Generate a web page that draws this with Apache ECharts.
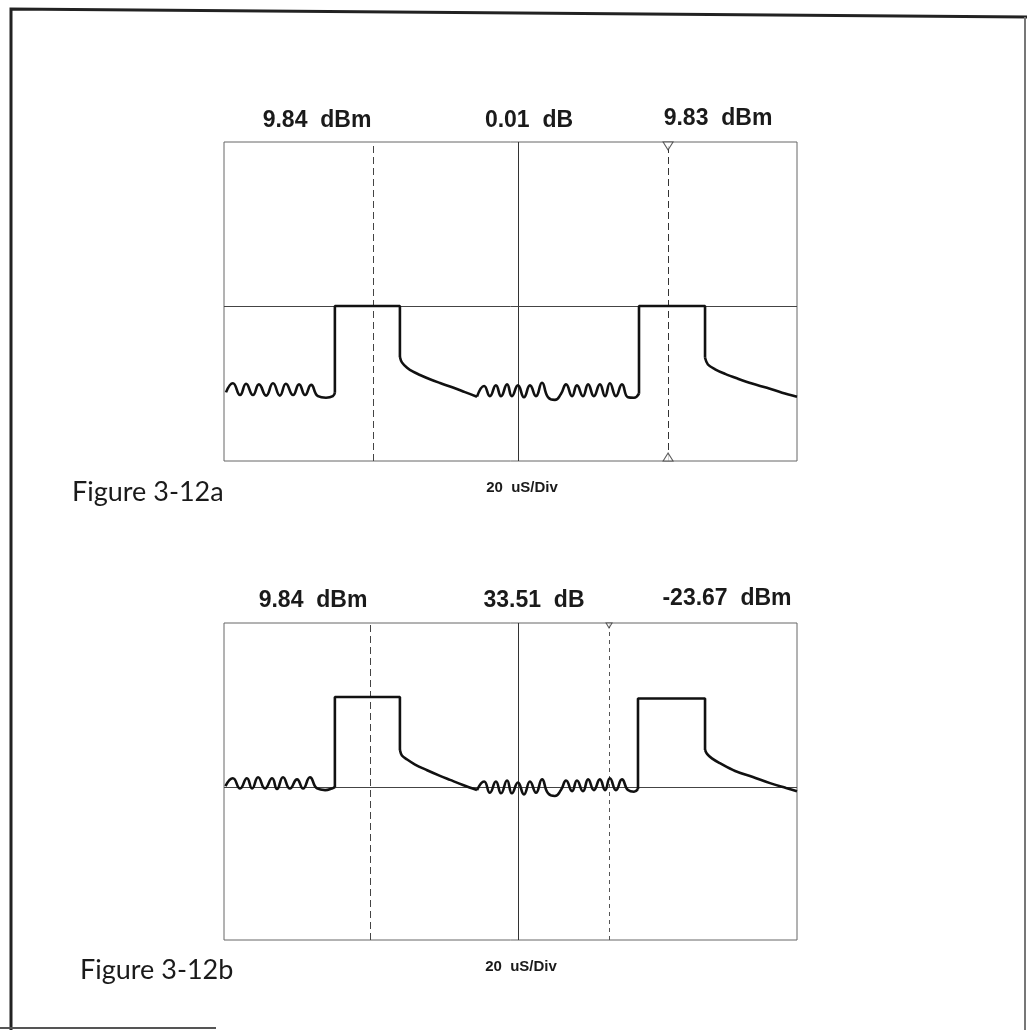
<!DOCTYPE html>
<html>
<head>
<meta charset="utf-8">
<script src="https://cdn.jsdelivr.net/npm/echarts@6/dist/echarts.min.js"></script>
<style>
  html, body { margin: 0; padding: 0; background: #fff; }
  #chart { width: 1027px; height: 1030px; }
</style>
</head>
<body>
<div id="chart"></div>
<script>
// time in uS (20 uS/Div, 10 div), level in dBm

// Figure 3-12a trace
const waveA1 = [
  [0.7, -22.4], [3.1, -19.0], [5.6, -23.4], [7.7, -19.2], [10.1, -23.4], [12.2, -19.4],
  [14.7, -23.6], [17.1, -19.0], [19.5, -23.6], [21.6, -19.2], [24.1, -23.4], [26.2, -19.4],
  [28.3, -23.4], [30.4, -19.6], [32.8, -23.8], [35.6, -24.4], [38.0, -23.8], [38.7, -22.5],
]
const pulseA1 = [[38.7, -22.5], [38.7, 9.84], [61.4, 9.84], [61.4, -9.2]]
const decayA1 = [
  [61.4, -9.2], [62.1, -11.2], [63.9, -13.2], [66.0, -14.7], [68.4, -15.9], [71.9, -17.5],
  [75.4, -18.9], [79.9, -20.6], [84.1, -22.3], [88.3, -24.0],
]
const waveA2 = [
  [88.3, -24.0], [90.8, -20.0], [92.8, -23.8], [94.9, -19.8], [96.7, -23.8], [98.8, -19.4],
  [100.5, -23.8], [102.6, -19.8], [104.7, -24.2], [106.8, -19.8], [108.9, -23.8], [111.0, -18.8],
  [113.1, -24.2], [115.5, -25.2], [117.6, -23.0], [119.4, -19.4], [121.5, -23.8], [123.2, -19.8],
  [125.3, -23.8], [127.1, -19.4], [129.1, -23.8], [131.2, -19.4], [133.0, -23.8], [134.7, -19.0],
  [136.8, -23.8], [138.9, -19.4], [141.0, -24.2], [143.1, -24.4], [144.85, -22.9],
]
const pulseA2 = [[144.85, -22.9], [144.85, 9.83], [167.9, 9.83], [167.9, -9.5]]
const decayA2 = [
  [167.9, -9.5], [168.9, -12.0], [171.4, -13.8], [174.9, -15.5], [179.4, -17.3], [184.3, -19.1],
  [189.5, -20.7], [194.8, -22.5], [200, -24.0],
]

// Figure 3-12b trace
const waveB1 = [
  [0.5, -23.3], [3.1, -20.4], [5.6, -24.2], [8.0, -20.4], [9.8, -24.2], [11.9, -20.0],
  [14.3, -24.2], [16.8, -20.4], [18.5, -24.4], [20.6, -20.0], [23.0, -24.2], [25.5, -20.8],
  [27.6, -24.2], [30.0, -20.0], [32.5, -24.2], [35.3, -24.8], [37.7, -24.2], [38.7, -23.7],
]
const pulseB1 = [[38.7, -23.7], [38.7, 9.84], [61.4, 9.84], [61.4, -9.9]]
const decayB1 = [
  [61.4, -9.9], [62.1, -11.9], [63.9, -13.4], [66.7, -15.3], [70.9, -17.4], [75.4, -19.5],
  [78.9, -21.0], [83.4, -22.9], [88.3, -24.8],
]
const waveB2 = [
  [88.3, -24.8], [90.8, -21.6], [92.8, -25.8], [94.9, -21.6], [96.7, -26.0], [98.8, -21.2],
  [100.5, -26.0], [102.6, -22.0], [104.7, -26.4], [106.8, -21.6], [108.9, -25.8], [111.0, -20.8],
  [113.1, -26.0], [115.5, -27.0], [117.6, -24.8], [119.4, -21.2], [121.5, -25.2], [123.2, -21.2],
  [125.3, -25.2], [127.1, -20.8], [129.1, -24.8], [131.2, -20.8], [133.0, -24.8], [134.7, -20.4],
  [136.8, -24.8], [138.9, -20.8], [141.0, -24.8], [143.1, -25.4], [144.5, -24.4],
]
const pulseB2 = [[144.5, -24.4], [144.5, 9.3], [167.9, 9.3], [167.9, -9.9]]
const decayB2 = [
  [167.9, -9.9], [168.6, -11.3], [170.3, -13.0], [173.1, -14.8], [178.4, -17.7], [184.6, -19.9],
  [190.6, -22.2], [196.2, -24.0], [200, -25.2],
]

// markers: [marker 1, centre line, marker 2], and reference level line
const markersA = [52.0, 102.6, 155.0]
const markersB = [51.0, 102.6, 134.4]
const refLevelA = 9.84
const refLevelB = -23.67

const readoutsA = ['9.84  dBm', '0.01  dB', '9.83  dBm']
const readoutsB = ['9.84  dBm', '33.51  dB', '-23.67  dBm']
const captions = ['Figure 3-12a', 'Figure 3-12b']
const timebase = '20  uS/Div'

const rangeA = [-48, 71]
const rangeB = [-80.6, 37.4]

const chart = echarts.init(document.getElementById('chart'))

const traceColor = '#111'

function trace(data, idx, smooth) {
  return {
    type: 'line',
    xAxisIndex: idx,
    yAxisIndex: idx,
    data: data,
    smooth: smooth || false,
    showSymbol: false,
    silent: true,
    lineStyle: { color: traceColor, width: 2.6 },
    z: 5,
  }
}

function markerLines(markers, ref, idx, m2Style) {
  return {
    type: 'line',
    xAxisIndex: idx,
    yAxisIndex: idx,
    data: [],
    markLine: {
      silent: true,
      symbol: 'none',
      animation: false,
      label: { show: false },
      data: [
        { xAxis: markers[0], lineStyle: { color: '#444', width: 1, type: [7, 4] } },
        { xAxis: markers[1], lineStyle: { color: '#333', width: 1, type: 'solid' } },
        { xAxis: markers[2], lineStyle: m2Style },
        { yAxis: ref, lineStyle: { color: '#444', width: 1, type: 'solid' } },
      ],
    },
  }
}

function arrows(x, range, idx, bottom, size) {
  const pts = [{ value: [x, range[1]], symbolRotate: 180, symbolOffset: [0, size[1] / 2] }]
  if (bottom) pts.push({ value: [x, range[0]], symbolRotate: 0, symbolOffset: [0, -size[1] / 2] })
  return {
    type: 'scatter',
    xAxisIndex: idx,
    yAxisIndex: idx,
    symbol: 'triangle',
    symbolSize: size,
    silent: true,
    data: pts,
    itemStyle: { color: '#fff', borderColor: '#333', borderWidth: 1 },
    z: 6,
  }
}

const titleFont = 'bold 23px "Liberation Sans", Arial, sans-serif'
const captionFont = '27px Lato, "Noto Sans", sans-serif'
const smallFont = 'bold 15px "Liberation Sans", Arial, sans-serif'

function text(str, x, y, font, align) {
  return {
    type: 'text',
    x: x,
    y: y,
    silent: true,
    style: {
      text: str,
      font: font,
      fill: '#1a1a1a',
      textAlign: align || 'center',
      textVerticalAlign: 'middle',
    },
  }
}

chart.setOption({
  animation: false,
  backgroundColor: '#fff',
  grid: [
    { left: 224, top: 142, width: 573, height: 319, show: true, borderColor: '#666', borderWidth: 1 },
    { left: 224, top: 623, width: 573, height: 317, show: true, borderColor: '#666', borderWidth: 1 },
  ],
  xAxis: [
    { gridIndex: 0, type: 'value', min: 0, max: 200, show: false },
    { gridIndex: 1, type: 'value', min: 0, max: 200, show: false },
  ],
  yAxis: [
    { gridIndex: 0, type: 'value', min: rangeA[0], max: rangeA[1], show: false },
    { gridIndex: 1, type: 'value', min: rangeB[0], max: rangeB[1], show: false },
  ],
  series: [
    markerLines(markersA, refLevelA, 0, { color: '#333', width: 1, type: [7, 4] }),
    trace(waveA1, 0, 0.5),
    trace(pulseA1, 0, false),
    trace(decayA1, 0, 0.35),
    trace(waveA2, 0, 0.5),
    trace(pulseA2, 0, false),
    trace(decayA2, 0, 0.35),
    arrows(markersA[2], rangeA, 0, true, [10, 8]),

    markerLines(markersB, refLevelB, 1, { color: '#555', width: 1, type: [4, 4] }),
    trace(waveB1, 1, 0.5),
    trace(pulseB1, 1, false),
    trace(decayB1, 1, 0.35),
    trace(waveB2, 1, 0.5),
    trace(pulseB2, 1, false),
    trace(decayB2, 1, 0.35),
    arrows(markersB[2], rangeB, 1, false, [6, 5]),
  ],
  graphic: [
    text(readoutsA[0], 317, 121, titleFont),
    text(readoutsA[1], 529, 121, titleFont),
    text(readoutsA[2], 718, 119, titleFont),
    text(readoutsB[0], 313, 601, titleFont),
    text(readoutsB[1], 534, 601, titleFont),
    text(readoutsB[2], 727, 599, titleFont),
    text(captions[0], 72, 492, captionFont, 'left'),
    text(captions[1], 80, 970, captionFont, 'left'),
    text(timebase, 522, 488, smallFont),
    text(timebase, 521, 967, smallFont),
    // outer frame of the scanned page
    {
      type: 'polyline',
      silent: true,
      shape: { points: [[11, 1030], [11, 9], [1027, 17]] },
      style: { stroke: '#222', lineWidth: 3, fill: null },
    },
    {
      type: 'line',
      silent: true,
      shape: { x1: 1025, y1: 17, x2: 1025, y2: 1030 },
      style: { stroke: '#777', lineWidth: 2 },
    },
    {
      type: 'line',
      silent: true,
      shape: { x1: 0, y1: 1028, x2: 216, y2: 1028 },
      style: { stroke: '#555', lineWidth: 2 },
    },
  ],
})

window.addEventListener('resize', () => chart.resize())
</script>
</body>
</html>
